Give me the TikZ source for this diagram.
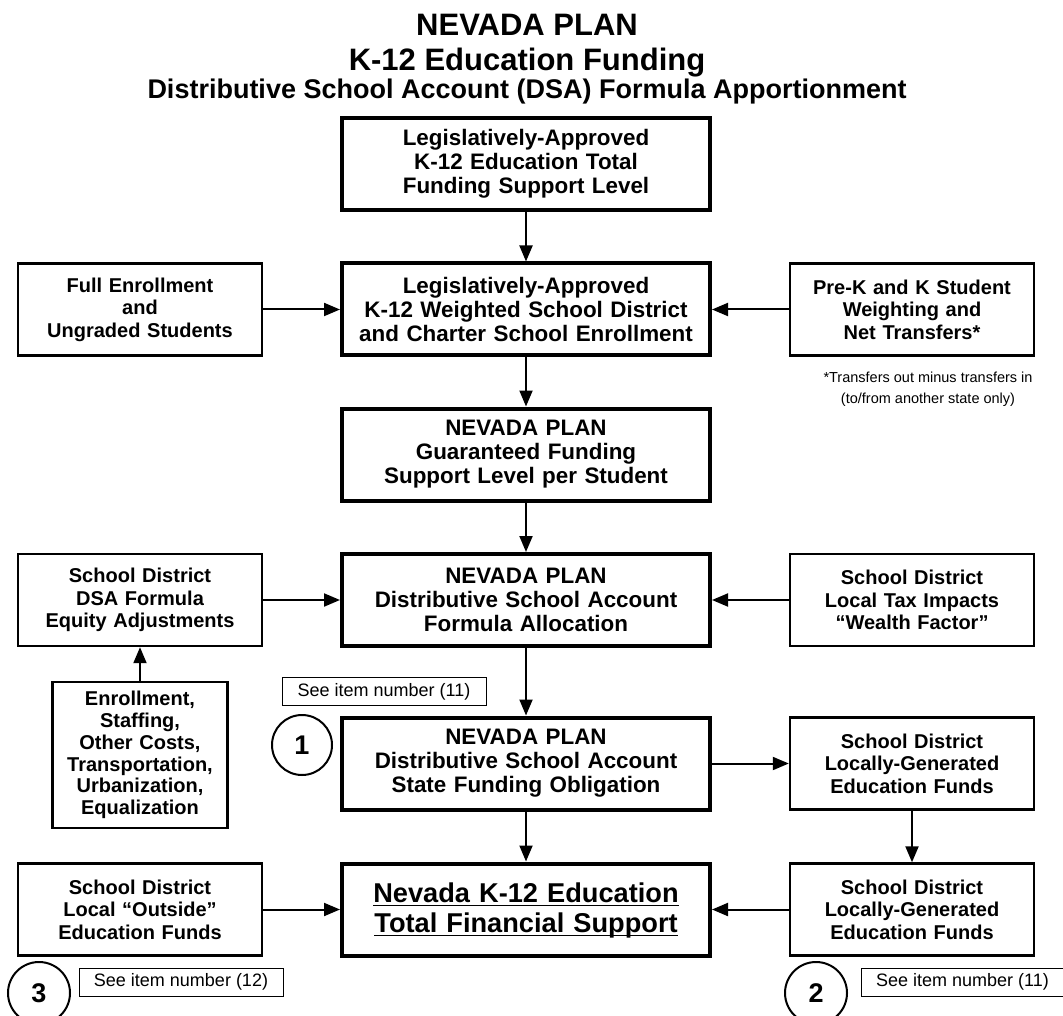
\documentclass[tikz,border=0pt]{standalone}
\usepackage{fontspec}
\setmainfont{Liberation Sans}
\usetikzlibrary{arrows.meta,positioning}

\newcommand{\flatline}[1]{\underline{\raisebox{0pt}[\height][0pt]{#1}}}

\begin{document}
\begin{tikzpicture}[x=0.5pt,y=-0.5pt,
    >={Triangle[length=8pt,width=6.5pt]}]
    \tikzset{mainbox/.style= {draw, rectangle
    , line width=2pt
    , text width=178pt
    , minimum height=46pt
    , inner sep=3pt
    , align=center
    , font=\bfseries\fontsize{11.2}{12}\selectfont
      },
    sidebox/.style= {mainbox
    , line width=1.2pt
    , text width=116pt
    , node distance=193pt
    , font=\bfseries\fontsize{10}{11.25}\selectfont
      },
    seebox/.style= {draw, rectangle
    , line width=0.5pt
    , minimum width=102pt
    , minimum height=14pt
    , inner sep=0pt
    , font=\fontsize{9}{10}\selectfont
      },
    numcirc/.style= {draw, circle
    , line width=1pt
    , minimum size=30pt
    , inner sep=0pt
    , font=\bfseries\fontsize{13.5}{14}\selectfont
      },
    title/.style= {anchor=base, font=\bfseries\fontsize{15.5}{17}\selectfont}
    }

\useasboundingbox (0,0) rectangle (1063,1015);

% heading
\node [title] (head1) at (527,36) {NEVADA PLAN};
\node [title] (head2) at (527,71) {K-12 Education Funding};
\node [title, font=\bfseries\fontsize{13.5}{15}\selectfont] (head3) at (527,99) {Distributive School Account (DSA) Formula Apportionment};

% centre column
\node [mainbox] (totlevel) at (526,164) {Legislatively-Approved\\K-12 Education Total\\Funding Support Level};
\node [mainbox, below of=totlevel, node distance=72.75pt] (wenroll) {Legislatively-Approved\\K-12 Weighted School District\\and Charter School Enrollment};
\node [mainbox, below of=wenroll, node distance=72.5pt] (guarant) {NEVADA PLAN\\Guaranteed Funding\\Support Level per Student};
\node [mainbox, below of=guarant, node distance=72.75pt] (formula) {NEVADA PLAN\\Distributive School Account\\Formula Allocation};
\node [mainbox, below of=formula, node distance=81.75pt] (obligation) {NEVADA PLAN\\Distributive School Account\\State Funding Obligation};
\node [mainbox, below of=obligation, node distance=73pt, font=\bfseries\fontsize{13.6}{15}\selectfont] (total) {\flatline{Nevada K-12 Education}\\\flatline{Total Financial Support}};

% side boxes
\node [sidebox, left of=wenroll] (fullenr) {Full Enrollment\\and\\Ungraded Students};
\node [sidebox, right of=wenroll] (prek) {Pre-K and K Student\\Weighting and\\Net Transfers*};
\node [sidebox, left of=formula] (equity) {School District\\DSA Formula\\Equity Adjustments};
\node [sidebox, right of=formula] (wealth) {School District\\Local Tax Impacts\\“Wealth Factor”};
\node [sidebox, right of=obligation] (localgen) {School District\\Locally-Generated\\Education Funds};
\node [sidebox, left of=total] (outside) {School District\\Local “Outside”\\Education Funds};
\node [sidebox, right of=total] (localfunds) {School District\\Locally-Generated\\Education Funds};
\node [sidebox, below of=equity, node distance=77.5pt, text width=81.5pt, minimum height=73pt,
  font=\bfseries\fontsize{10}{10.85}\selectfont] (factors) {Enrollment,\\Staffing,\\Other Costs,\\Transportation,\\Urbanization,\\Equalization};

% notes
\node [align=center, font=\fontsize{7.25}{10.5}\selectfont] (footnote) at (928,389.5) {*Transfers out minus transfers in\\(to/from another state only)};
\node [seebox] (seeone) at (384,691.5) {See item number (11)};
\node [seebox] (seethree) at (181,982) {See item number (12)};
\node [seebox, minimum width=101pt] (seetwo) at (962.5,982) {See item number (11)};
\node [numcirc] (numone) at (302,745) {1};
\node [numcirc, minimum size=31pt] (numthree) at (39,993) {3};
\node [numcirc, minimum size=31pt] (numtwo) at (816,993) {2};

 \path[draw, ->, line width=1pt]
  (totlevel) -- (wenroll);
 \path[draw, ->, line width=1pt]
  (wenroll) -- (guarant);
 \path[draw, ->, line width=1pt]
  (guarant) -- (formula);
 \path[draw, ->, line width=1pt]
  (formula) -- (obligation);
 \path[draw, ->, line width=1pt]
  (obligation) -- (total);
 \path[draw, ->, line width=1pt]
  (fullenr) -- (wenroll);
 \path[draw, ->, line width=1pt]
  (prek) -- (wenroll);
 \path[draw, ->, line width=1pt]
  (equity) -- (formula);
 \path[draw, ->, line width=1pt]
  (wealth) -- (formula);
 \path[draw, ->, line width=1pt]
  (factors) -- (equity);
 \path[draw, ->, line width=1pt]
  (obligation) -- (localgen);
 \path[draw, ->, line width=1pt]
  (localgen) -- (localfunds);
 \path[draw, ->, line width=1pt]
  (outside) -- (total);
 \path[draw, ->, line width=1pt]
  (localfunds) -- (total);
\end{tikzpicture}
\end{document}
